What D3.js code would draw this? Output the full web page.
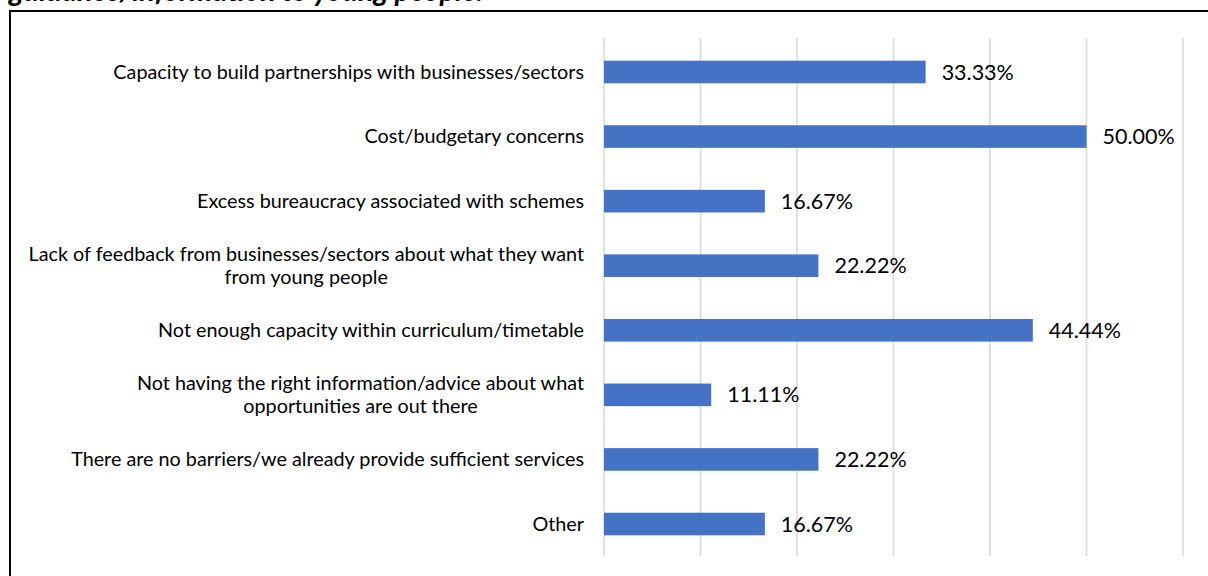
<!DOCTYPE html>
<html>
<head>
<meta charset="utf-8">
<script src="https://cdn.jsdelivr.net/npm/d3@7"></script>
<style>
  html, body { margin: 0; padding: 0; background: #fff; }
  svg { display: block; }
</style>
</head>
<body>
<svg id="chart" width="1208" height="576"></svg>
<script>
// Barriers reported, share of respondents (%)
const categories = [
  "Capacity to build partnerships with businesses/sectors",
  "Cost/budgetary concerns",
  "Excess bureaucracy associated with schemes",
  "Lack of feedback from businesses/sectors about what they want|from young people",
  "Not enough capacity within curriculum/timetable",
  "Not having the right information/advice about what|opportunities are out there",
  "There are no barriers/we already provide sufficient services",
  "Other"
];
const values = [33.33, 50.00, 16.67, 22.22, 44.44, 11.11, 22.22, 16.67];
const xTicks = [0, 10, 20, 30, 40, 50, 60];
const titleText = "guidance/information to young people.";

const svg = d3.select("#chart");
const font = "Lato, 'Open Sans', sans-serif";

// Caption above the frame (only its lower part falls inside the page)
svg.append("text")
  .attr("x", 9)
  .attr("y", 1)
  .attr("font-family", font)
  .attr("font-size", 29)
  .attr("font-weight", "bold")
  .attr("font-style", "italic")
  .attr("fill", "#000")
  .text(titleText);

// Chart frame
svg.append("rect")
  .attr("x", 10).attr("y", 11)
  .attr("width", 1300).attr("height", 700)
  .attr("fill", "none")
  .attr("stroke", "#000")
  .attr("stroke-width", 2);

const x = d3.scaleLinear().domain([0, 60]).range([604, 1183]);
const y = d3.scaleBand()
  .domain(categories)
  .range([39.7, 556.3])
  .paddingInner(0.65)
  .paddingOuter(0.325);

// Vertical gridlines
svg.append("g")
  .selectAll("line")
  .data(xTicks)
  .join("line")
  .attr("x1", d => x(d)).attr("x2", d => x(d))
  .attr("y1", 38).attr("y2", 556)
  .attr("stroke", "#d9d9d9")
  .attr("stroke-width", 1.6);

// Bars
svg.append("g")
  .selectAll("rect")
  .data(values)
  .join("rect")
  .attr("x", x(0))
  .attr("y", (d, i) => y(categories[i]))
  .attr("width", d => x(d) - x(0))
  .attr("height", y.bandwidth())
  .attr("fill", "#4472c4");

// Value labels
svg.append("g")
  .selectAll("text")
  .data(values)
  .join("text")
  .attr("x", d => x(d) + 16)
  .attr("y", (d, i) => y(categories[i]) + y.bandwidth() / 2)
  .attr("dy", "0.35em")
  .attr("font-family", font)
  .attr("font-size", 21.5)
  .attr("fill", "#000")
  .text(d => d.toFixed(2) + "%");

// Category labels: right-aligned block, wrapped lines centred within it
const labelRight = 584;
const lineHeight = 23;
const labels = svg.append("g")
  .attr("font-family", font)
  .attr("font-size", 19.8)
  .attr("fill", "#000");

categories.forEach((c, i) => {
  const lines = c.split("|");
  const cy = y(c) + y.bandwidth() / 2;
  const g = labels.append("g");
  const texts = lines.map((ln, j) =>
    g.append("text")
      .attr("y", cy + (j - (lines.length - 1) / 2) * lineHeight)
      .attr("dy", "0.35em")
      .text(ln));
  const widths = texts.map(t => t.node().getComputedTextLength());
  const maxW = Math.max(...widths);
  texts.forEach(t => t.attr("x", labelRight - maxW / 2).attr("text-anchor", "middle"));
});
</script>
</body>
</html>
